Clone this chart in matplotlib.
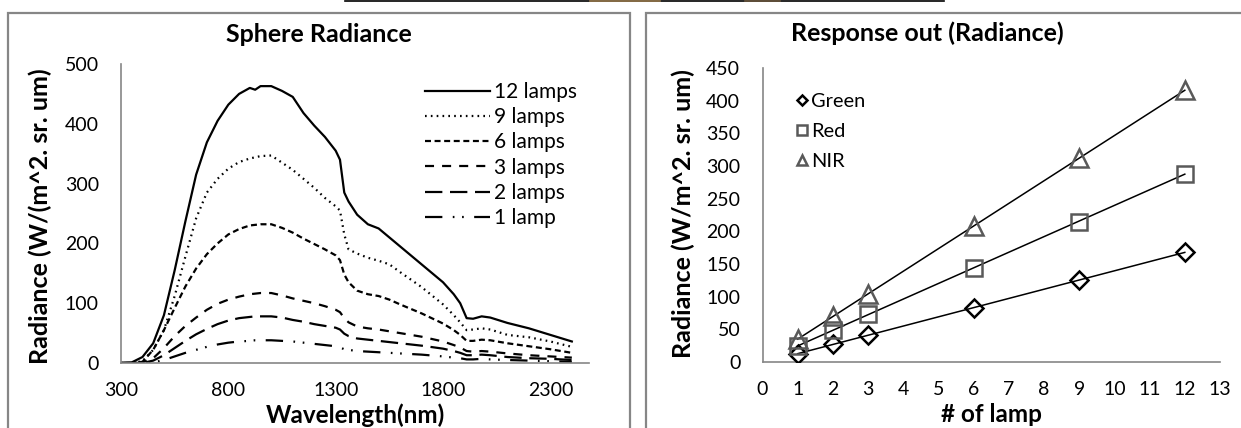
import matplotlib
matplotlib.use("Agg")
import numpy as np
import matplotlib.pyplot as plt
from matplotlib.patches import Rectangle
from matplotlib.lines import Line2D

plt.rcParams['font.family'] = ['Lato', 'DejaVu Sans']
plt.rcParams['lines.scale_dashes'] = False

# ---- left chart: sphere radiance spectra ----
wavelength = [300, 350, 400, 450, 500, 550, 600, 650, 700, 750, 800, 850, 900, 925,
              950, 1000, 1050, 1100, 1150, 1200, 1250, 1300, 1320, 1340, 1360, 1400,
              1450, 1500, 1550, 1600, 1700, 1800, 1850, 1880, 1910, 1940, 1980, 2020,
              2100, 2200, 2300, 2400]
lamps12 = [0, 1, 10, 33, 80, 155, 237, 315, 369, 405, 432, 450, 460, 457,
           463, 463, 455, 445, 418, 397, 378, 355, 340, 285, 270, 248,
           232, 225, 210, 195, 165, 135, 115, 100, 75, 74, 78, 76,
           67, 58, 47, 36]
lamps9 = [0, 0, 3, 22, 55, 112, 178, 242, 285, 308, 325, 336, 342, 344,
          346, 347, 335, 323, 308, 293, 276, 262, 255, 215, 190, 183,
          176, 171, 165, 152, 127, 98, 80, 68, 55, 56, 58, 56,
          47, 43, 36, 27]
lamps6 = [0, 0, 2, 22, 55, 92, 128, 158, 182, 200, 215, 224, 230, 231,
          232, 232, 226, 218, 208, 199, 190, 180, 172, 148, 135, 121,
          115, 112, 106, 98, 83, 66, 55, 47, 37, 37, 39, 38,
          33, 28, 23, 17]
lamps3 = [0, 0, 1, 8, 25, 45, 62, 76, 89, 99, 106, 111, 115, 116,
          117, 117, 113, 108, 104, 100, 95, 89, 85, 75, 68, 61,
          58, 56, 53, 50, 44, 36, 30, 26, 20, 19, 20, 19,
          16, 13, 11, 9]
lamps2 = [0, 0, 0, 4, 13, 25, 37, 48, 57, 65, 71, 75, 77, 78,
          78, 78, 76, 72, 69, 65, 62, 59, 56, 49, 45, 41,
          39, 37, 35, 33, 29, 24, 20, 17, 13, 13, 14, 13,
          10, 8, 7, 5]
lamps1 = [0, 0, 0, 1, 5, 11, 17, 22, 27, 31, 34, 36, 37, 38,
          38, 38, 37, 36, 34, 32, 30, 28, 26, 23, 22, 20,
          19, 18, 17, 16, 14, 11, 9, 8, 6, 6, 7, 6,
          5, 4, 3, 2]
spectra_labels = ["12 lamps", "9 lamps", "6 lamps", "3 lamps", "2 lamps", "1 lamp"]

# ---- right chart: response vs number of lamps ----
n_lamps = [1, 2, 3, 6, 9, 12]
green = [12, 27, 42, 83, 125, 168]
red = [24, 49, 73, 144, 215, 288]
nir = [35, 70, 104, 208, 312, 416]

W, H = 1241, 428
fig = plt.figure(figsize=(W / 100, H / 100), dpi=100)


def fx(px):
    return px / W


def fy(py):
    return 1 - py / H


FRAME = "#868686"
AXC = "#868686"
TICK_FS = 14
LAB_FS = 17.5

# panel frames and the strip on top
fig.add_artist(Rectangle((fx(8), fy(440)), fx(630) - fx(8), fy(13) - fy(440),
                         transform=fig.transFigure, fill=False, ec=FRAME, lw=1.6))
fig.add_artist(Rectangle((fx(646), fy(440)), fx(1260) - fx(646), fy(13) - fy(440),
                         transform=fig.transFigure, fill=False, ec=FRAME, lw=1.6))
fig.add_artist(Line2D([fx(345), fx(944)], [fy(0.8), fy(0.8)], transform=fig.transFigure,
                      color="black", lw=1.2))
fig.add_artist(Line2D([fx(590), fx(660)], [fy(0.8), fy(0.8)], transform=fig.transFigure,
                      color="#c49a5a", lw=1.2, alpha=0.7))
fig.add_artist(Line2D([fx(745), fx(780)], [fy(0.8), fy(0.8)], transform=fig.transFigure,
                      color="#a8804e", lw=1.2, alpha=0.5))


def style_axes(ax):
    for s in ["top", "right"]:
        ax.spines[s].set_visible(False)
    for s in ["left", "bottom"]:
        ax.spines[s].set_color(AXC)
        ax.spines[s].set_linewidth(1.2)
    ax.tick_params(length=0, labelsize=TICK_FS)
    ax.tick_params(axis="x", pad=14)
    ax.tick_params(axis="y", pad=16)
    ax.patch.set_alpha(0)


# left axes
ax1 = fig.add_axes([fx(121), fy(363), fx(589) - fx(121), fy(64) - fy(363)])
styles = [
    "-",
    (0, (1.2, 3.0)),
    (0, (4.3, 2.6)),
    (0, (6.5, 5.8)),
    (0, (12.5, 5.5)),
    (0, (12.5, 7.5, 1.2, 5.5, 1.2, 7.5)),
]
for vals, lab, ls in zip([lamps12, lamps9, lamps6, lamps3, lamps2, lamps1], spectra_labels, styles):
    ax1.plot(wavelength, vals, color="black", lw=1.6, ls=ls, label=lab)
ax1.set_xlim(300, 2480)
ax1.set_ylim(0, 500)
ax1.set_xticks([300, 800, 1300, 1800, 2300])
ax1.set_yticks([0, 100, 200, 300, 400, 500])
style_axes(ax1)
fig.text(fx(319), fy(35), "Sphere Radiance", ha="center", va="center",
         fontsize=18, fontweight="bold")
fig.text(fx(355), fy(415), "Wavelength(nm)", ha="center", va="center",
         fontsize=LAB_FS, fontweight="bold")
fig.text(fx(40), fy(216), "Radiance (W/(m^2. sr. um)", ha="center", va="center",
         rotation=90, fontsize=18, fontweight="bold")
ax1.legend(loc="upper left", bbox_to_anchor=(fx(425), fy(82)),
           bbox_transform=fig.transFigure, frameon=False, fontsize=15,
           handlelength=3.1, handletextpad=0.2, labelspacing=0.25, borderpad=0,
           borderaxespad=0)

# right axes
ax2 = fig.add_axes([fx(762.5), fy(362), fx(1220) - fx(762.5), fy(68) - fy(362)])
series = [(green, "Green", "D", "black", 9),
          (red, "Red", "s", "#595959", 11),
          (nir, "NIR", "^", "#595959", 13)]
for vals, lab, mk, ec, ms in series:
    ax2.plot(n_lamps, vals, ls="none", marker=mk, ms=ms, mfc="none", mec=ec,
             mew=1.8, label=lab, zorder=3)
    k, b = np.polyfit(n_lamps, vals, 1)
    xs = np.array([n_lamps[0], n_lamps[-1]])
    ax2.plot(xs, k * xs + b, color="black", lw=1.1, zorder=2)
ax2.set_xlim(0, 13)
ax2.set_ylim(0, 450)
ax2.set_xticks(range(0, 14))
ax2.set_yticks(range(0, 451, 50))
style_axes(ax2)
fig.text(fx(927), fy(33), "Response out (Radiance)", ha="center", va="center",
         fontsize=18, fontweight="bold")
fig.text(fx(991), fy(415), "# of lamp", ha="center", va="center",
         fontsize=LAB_FS, fontweight="bold")
fig.text(fx(683), fy(214), "Radiance (W/m^2. sr. um)", ha="center", va="center",
         rotation=90, fontsize=18, fontweight="bold")
leg = ax2.legend(loc="upper left", bbox_to_anchor=(fx(798), fy(93)),
                 bbox_transform=fig.transFigure, frameon=False, fontsize=14.4,
                 handlelength=0.4, handletextpad=0.25, labelspacing=0.65,
                 borderpad=0, borderaxespad=0, markerscale=0.6, numpoints=1)

fig.savefig("out.png", dpi=100)
